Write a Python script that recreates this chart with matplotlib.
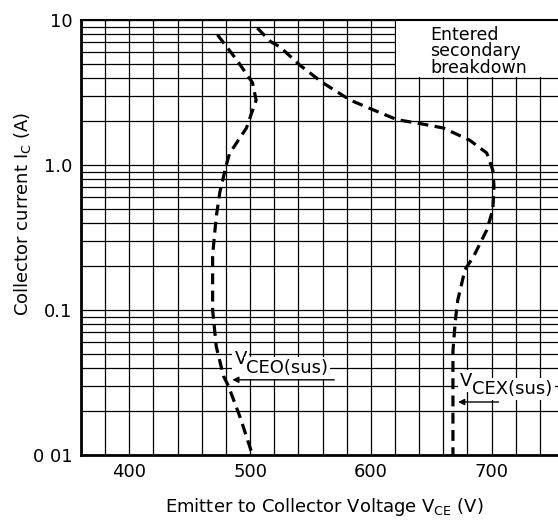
import matplotlib
matplotlib.use("Agg")
from matplotlib import pyplot as plt
from matplotlib.patches import Rectangle
from matplotlib.ticker import MultipleLocator, LogLocator, FixedLocator, FixedFormatter

# V_CEO(sus) curve (voltage V, current A)
vceo_v = [473, 489, 502, 505, 497, 483, 480, 475, 472, 469, 469, 472, 478, 482, 492, 502]
vceo_i = [7.9, 5.3, 3.7, 2.8, 1.8, 1.2, 0.98, 0.65, 0.44, 0.24, 0.1, 0.056, 0.035, 0.03, 0.018, 0.01]

# V_CEX(sus) curve
vcex_v = [506, 517, 525, 541, 560, 583, 602, 622, 638, 660, 682, 696, 701, 702, 701, 696,
          685, 678, 672, 670, 668, 668]
vcex_i = [8.8, 7.1, 6.5, 4.9, 3.7, 2.8, 2.4, 2.05, 1.95, 1.8, 1.48, 1.21, 0.92, 0.71, 0.49, 0.356,
          0.233, 0.19, 0.117, 0.085, 0.052, 0.01]

x_ticks = [400, 500, 600, 700]
y_ticks = [0.01, 0.1, 1.0, 10]
y_labels = ["0 01", "0.1", "1.0", "10"]

plt.rcParams['font.family'] = ['DejaVu Sans']

fig = plt.figure(figsize=(5.58, 5.24), dpi=100)
ax = fig.add_axes([81/558, 69/524, 477/558, 435/524])

ax.set_yscale('log')
ax.set_xlim(360, 755)
ax.set_ylim(0.01, 10)

ax.xaxis.set_major_locator(FixedLocator(x_ticks))
ax.xaxis.set_minor_locator(MultipleLocator(20))
ax.yaxis.set_major_locator(FixedLocator(y_ticks))
ax.yaxis.set_major_formatter(FixedFormatter(y_labels))
ax.yaxis.set_minor_locator(LogLocator(base=10, subs=range(2, 10)))
ax.yaxis.set_minor_formatter(plt.NullFormatter())

ax.set_axisbelow(True)
ax.grid(True, which='both', color='black', lw=0.9)
ax.tick_params(which='both', length=0, labelsize=13, pad=6)

ax.spines['right'].set_visible(False)
ax.spines['left'].set_linewidth(2)
ax.spines['bottom'].set_linewidth(2)
ax.spines['top'].set_linewidth(1.5)

# white box for the note
ax.add_patch(Rectangle((620.6, 4.05), 200, 6, facecolor='white', edgecolor='none', zorder=1.5))
ax.text(649, 9.15, "Entered\nsecondary\nbreakdown", fontsize=12.5, va='top', ha='left',
        linespacing=0.92, zorder=3)

ax.plot(vceo_v, vceo_i, color='black', lw=2.3, dashes=(3.4, 2.0), zorder=2)
ax.plot(vcex_v, vcex_i, color='black', lw=2.3, dashes=(3.4, 2.0), zorder=2)

# labels with arrows
box = dict(facecolor='white', edgecolor='none', pad=1.5)
ax.annotate("", xy=(483, 0.033), xytext=(572, 0.033),
            arrowprops=dict(arrowstyle='-|>', color='black', lw=1, mutation_scale=9), zorder=3)
ax.text(487, 0.053, "V", fontsize=13, va='top', ha='left', bbox=box, zorder=2.5)
ax.text(496.5, 0.046, "CEO(sus)", fontsize=13, va='top', ha='left', bbox=box, zorder=2.5)

ax.annotate("", xy=(670, 0.0232), xytext=(708, 0.0232),
            arrowprops=dict(arrowstyle='-|>', color='black', lw=1, mutation_scale=9), zorder=3)
ax.text(674, 0.0373, "V", fontsize=13, va='top', ha='left', bbox=box, zorder=2.5)
ax.text(684, 0.0329, "CEX(sus)", fontsize=13, va='top', ha='left', bbox=box, zorder=2.5)

ax.set_ylabel(r"Collector current I$_\mathregular{C}$ (A)", fontsize=13)
ax.yaxis.set_label_coords(-0.10, 0.555)
ax.set_xlabel(r"Emitter to Collector Voltage V$_\mathregular{CE}$ (V)", fontsize=13)
ax.xaxis.set_label_coords(0.511, -0.094)

fig.savefig("out.png", dpi=100)
